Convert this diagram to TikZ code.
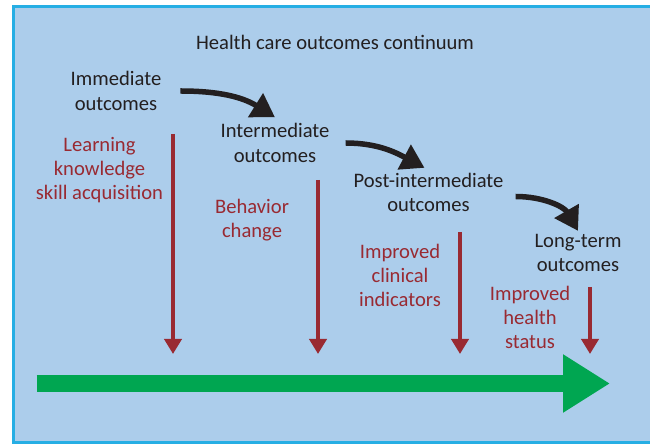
\documentclass[tikz,border=0pt]{standalone}
\usepackage{fontspec}
\setmainfont{Carlito}
\usetikzlibrary{arrows.meta,positioning}

\definecolor{skyfill}{RGB}{172,205,235}
\definecolor{skyline}{RGB}{38,174,228}
\definecolor{winered}{RGB}{153,42,50}
\definecolor{flowgreen}{RGB}{0,166,81}
\definecolor{inkblack}{RGB}{35,31,32}

\begin{document}
\begin{tikzpicture}[
  x=1pt, y=1pt,
  stage/.style={align=center, inner sep=0pt, text=inkblack, font=\fontsize{20.6}{24.5}\selectfont},
  gain/.style={align=center, inner sep=0pt, text=winered, font=\fontsize{20.6}{24}\selectfont},
  flow/.style={line width=5.5pt, draw=inkblack, -{Triangle[length=23pt,width=27pt]}},
  drop/.style={line width=4.5pt, draw=winered, -{Triangle[length=15pt,width=17pt]}},
  trend/.style={line width=17pt, draw=flowgreen, -{Triangle[length=47pt,width=55pt]}}
]
\useasboundingbox (0,0) rectangle (650,444);
\draw[skyline, fill=skyfill, line width=3pt] (13.5,1.5) rectangle (665,437.5);

\node[stage] (title) at (335,402) {Health care outcomes continuum};

% outcome stages
\node[stage] (imm) at (116,353) {Immediate\\outcomes};
\node[stage] (inter) at (275,301) {Intermediate\\outcomes};
\node[stage] (post) at (428.5,251.5) {Post-intermediate\\outcomes};
\node[stage] (long) at (578,191) {Long-term\\outcomes};

% what each stage brings
\node[gain] (learn) at (99.5,274) {Learning\\knowledge\\skill acquisition};
\node[gain] (behav) at (252,224) {Behavior\\change};
\node[gain] (clin) at (400,169) {Improved\\clinical\\indicators};
\node[gain] (status) at (530,126.5) {Improved\\health\\status};

\draw[flow] ([xshift=19pt]imm.east) to[out=0, in=148] ([yshift=6pt]inter.north);
\draw[flow] ([xshift=16pt]inter.east) to[out=0, in=152] ([xshift=-4pt,yshift=5pt]post.north);
\draw[flow] ([xshift=12pt,yshift=-4pt]post.east) to[out=0, in=120] ([yshift=3pt]long.north);

% red drops onto the timeline
\coordinate (learn top) at (173,310);
\coordinate (learn end) at (173,90);
\coordinate (behav top) at (318,264);
\coordinate (behav end) at (318,90);
\coordinate (clin top) at (460,212);
\coordinate (clin end) at (460,90);
\coordinate (status top) at (590,157);
\coordinate (status end) at (590,90);
\draw[drop] (learn top) -- (learn end);
\draw[drop] (behav top) -- (behav end);
\draw[drop] (clin top) -- (clin end);
\draw[drop] (status top) -- (status end);

% timeline
\coordinate (time start) at (36.5,60.5);
\coordinate (time end) at (610,60.5);
\draw[trend] (time start) -- (time end);

\end{tikzpicture}
\end{document}
